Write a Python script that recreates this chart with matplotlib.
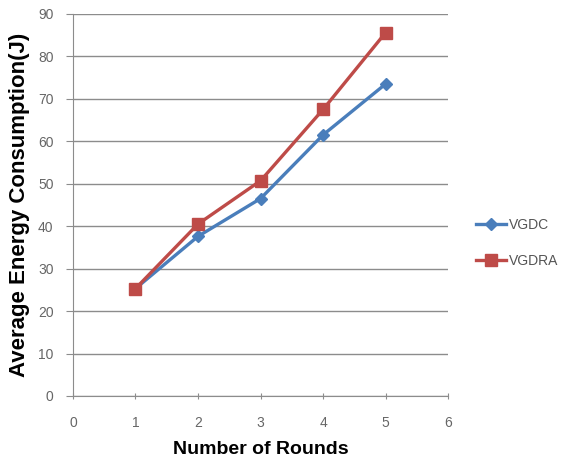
import matplotlib
matplotlib.use("Agg")
import matplotlib.pyplot as plt

# Data
rounds = [1, 2, 3, 4, 5]
vgdc = [25.3, 37.6, 46.5, 61.5, 73.5]
vgdra = [25.3, 40.5, 50.7, 67.5, 85.6]

plt.rcParams['font.family'] = ['Liberation Sans', 'DejaVu Sans']

fig = plt.figure(figsize=(5.61, 4.61), dpi=100)
ax = fig.add_axes([0.130, 0.141, 0.669, 0.829])

ax.plot(rounds, vgdc, color="#4a7ebb", marker="D", markersize=6, linewidth=2.4, label="VGDC")
ax.plot(rounds, vgdra, color="#be4b48", marker="s", markersize=8, linewidth=2.4, label="VGDRA")

ax.set_xlim(0, 6)
ax.set_ylim(0, 90)
ax.set_xticks(range(0, 7))
ax.set_yticks(range(0, 91, 10))
ax.yaxis.grid(True, color="#8c8c8c", linewidth=1)
ax.set_axisbelow(True)

for side in ["top", "right"]:
    ax.spines[side].set_visible(False)
for side in ["left", "bottom"]:
    ax.spines[side].set_color("#8c8c8c")
ax.tick_params(colors="#8c8c8c", labelcolor="#666666", labelsize=10, length=5)
ax.tick_params(axis="y", pad=9)
ax.tick_params(axis="x", direction="inout", pad=12)

ax.set_xlabel("Number of Rounds", fontsize=14, fontweight="bold", labelpad=8)
ax.set_ylabel("Average Energy Consumption(J)", fontsize=16, fontweight="bold", labelpad=6)

ax.legend(loc="center left", bbox_to_anchor=(1.04, 0.40), frameon=False,
          fontsize=10, labelcolor="#555555", handlelength=2.2, handletextpad=0.2,
          labelspacing=1.6)

fig.savefig("out.png", dpi=100)
